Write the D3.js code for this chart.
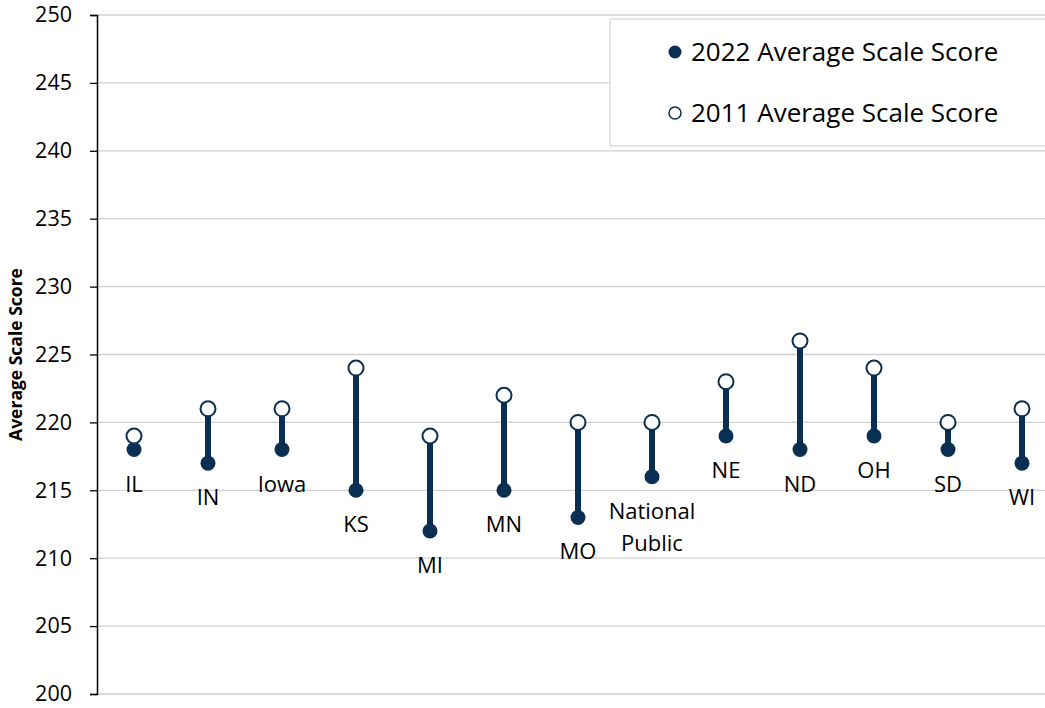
<!DOCTYPE html>
<html><head><meta charset="utf-8">
<script src="https://cdn.jsdelivr.net/npm/d3@7"></script>
<style>body{margin:0;background:#fff}svg{display:block}text{font-family:"Open Sans",Lato,sans-serif}</style>
</head><body>
<svg id="c" width="1045" height="708"></svg>
<script>
const categories = ["IL","IN","Iowa","KS","MI","MN","MO","National Public","NE","ND","OH","SD","WI"];
const score2022 = [218,217,218,215,212,215,213,216,219,218,219,218,217];
const score2011 = [219,221,221,224,219,222,220,220,223,226,224,220,221];
const yTicks = [200,205,210,215,220,225,230,235,240,245,250];
const seriesNames = ["2022 Average Scale Score","2011 Average Scale Score"];

const navy = "#0b2f52";
const svg = d3.select("#c");
const x = d3.scaleBand().domain(categories).range([97,1059]);
const y = d3.scaleLinear().domain([200,250]).range([694,15]);
const cx = d => x(d) + x.bandwidth()/2;

// grid
svg.append("g").selectAll("line").data(yTicks).join("line")
  .attr("x1",97).attr("x2",1045).attr("y1",d=>y(d)).attr("y2",d=>y(d))
  .attr("stroke","#d0d0d0").attr("stroke-width",1.3);

// y axis
const ya = svg.append("g").attr("transform","translate(97,0)")
  .call(d3.axisLeft(y).tickValues(yTicks).tickSize(7).tickPadding(18).tickFormat(d3.format("d")));
ya.select(".domain").attr("stroke","#000").attr("stroke-width",1.5);
ya.selectAll(".tick line").attr("stroke","#000").attr("stroke-width",1.3);
ya.selectAll(".tick text").attr("font-size",21.5).attr("fill","#000").attr("font-family","'Open Sans',sans-serif");

svg.append("text").attr("transform",`translate(22,${y(225)}) rotate(-90)`)
  .attr("text-anchor","middle").attr("font-size",17.5).attr("font-weight","bold").text("Average Scale Score");

const data = categories.map((c,i)=>({c,a:score2022[i],b:score2011[i]}));

// stems
svg.append("g").selectAll("line").data(data).join("line")
  .attr("x1",d=>cx(d.c)).attr("x2",d=>cx(d.c)).attr("y1",d=>y(d.a)).attr("y2",d=>y(d.b))
  .attr("stroke",navy).attr("stroke-width",6);
// 2022
svg.append("g").selectAll("circle").data(data).join("circle")
  .attr("cx",d=>cx(d.c)).attr("cy",d=>y(d.a)).attr("r",7.5).attr("fill",navy);
// 2011
svg.append("g").selectAll("circle").data(data).join("circle")
  .attr("cx",d=>cx(d.c)).attr("cy",d=>y(d.b)).attr("r",7.5).attr("fill","#fff").attr("stroke",navy).attr("stroke-width",2);

// labels
const lab = svg.append("g").selectAll("text").data(data).join("text")
  .attr("text-anchor","middle").attr("font-size",22).attr("fill","#000");
lab.each(function(d){
  const words = d.c.split(" ");
  const t = d3.select(this);
  words.forEach((w,k)=>{
    t.append("tspan").attr("x",cx(d.c)).attr("y",y(d.a)+42+k*32).text(w);
  });
});

// legend
const lg = svg.append("g");
lg.append("rect").attr("x",610).attr("y",19).attr("width",450).attr("height",127)
  .attr("fill","#fff").attr("stroke","#d9d9d9").attr("stroke-width",1.3);
[0,1].forEach(i=>{
  const yy = 52 + i*61;
  lg.append("circle").attr("cx",675).attr("cy",yy).attr("r",i===0?6.5:6)
    .attr("fill",i===0?navy:"#fff").attr("stroke",navy).attr("stroke-width",i===0?0:1.5);
  lg.append("text").attr("x",691).attr("y",yy).attr("dy","0.36em").attr("font-size",26).text(seriesNames[i]);
});
</script>
</body></html>
